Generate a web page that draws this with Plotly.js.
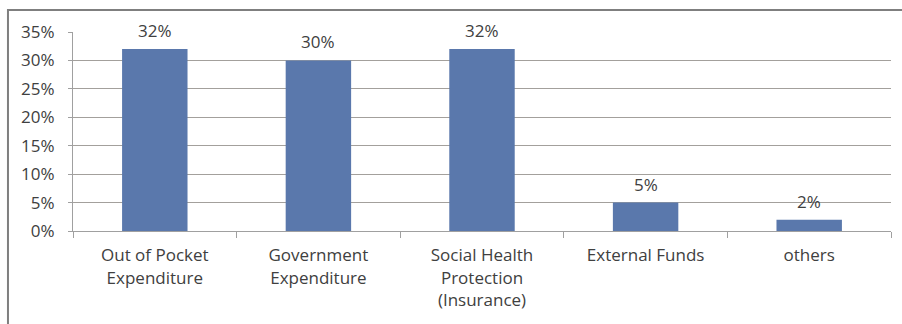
<!DOCTYPE html>
<html>
<head>
<meta charset="utf-8">
<script src="https://cdn.plot.ly/plotly-3.0.1.min.js"></script>
<style>html,body{margin:0;padding:0;background:#fff;}#chart{width:902px;height:324px;}</style>
</head>
<body>
<div id="chart"></div>
<script>
const categories = ["Out of Pocket<br>Expenditure", "Government<br>Expenditure", "Social Health<br>Protection<br>(Insurance)", "External Funds", "others"];
const values = [32, 30, 32, 5, 2];
const valueLabels = ["32%", "30%", "32%", "5%", "2%"];
const yTickVals = [0, 5, 10, 15, 20, 25, 30, 35];

const textColor = "#404040";
const fontFam = "'Open Sans', 'Noto Sans', sans-serif";
const fs = 17;

const trace = {
  type: "bar",
  x: categories,
  y: values,
  marker: {color: "#5a78ac"},
  width: 0.4,
  hoverinfo: "none"
};

const annotations = categories.map((c, i) => ({
  x: c, y: values[i], xref: "x", yref: "y",
  text: valueLabels[i], showarrow: false,
  yanchor: "bottom", yshift: 5,
  font: {family: fontFam, size: fs, color: textColor}
}));

const layout = {
  width: 902, height: 324,
  margin: {l: 73, r: 11, t: 32, b: 93},
  paper_bgcolor: "#fff", plot_bgcolor: "#fff",
  showlegend: false,
  bargap: 0.6,
  font: {family: fontFam, size: fs, color: textColor},
  xaxis: {
    type: "category",
    showline: true, linecolor: "#a0a0a0", linewidth: 1,
    ticks: "outside", tickson: "boundaries", ticklen: 6, tickcolor: "#a0a0a0",
    showgrid: false,
    tickfont: {family: fontFam, size: fs, color: textColor},
    ticklabelstandoff: 9,
    fixedrange: true
  },
  yaxis: {
    range: [0, 35],
    tickvals: yTickVals,
    ticktext: yTickVals.map(v => v + "%"),
    showline: true, linecolor: "#a0a0a0", linewidth: 1,
    ticks: "outside", ticklen: 4, tickcolor: "#a0a0a0",
    showgrid: true, gridcolor: "#a3a09c", gridwidth: 1,
    zeroline: false,
    tickfont: {family: fontFam, size: fs, color: textColor},
    ticklabelstandoff: 10,
    fixedrange: true
  },
  annotations: annotations,
  shapes: [
    {type: "path", xref: "paper", yref: "paper",
     path: "M -0.0795 -0.5 L -0.0795 1.111 L 1.02 1.111",
     line: {color: "#7f7f7f", width: 2}}
  ]
};

Plotly.newPlot("chart", [trace], layout, {displayModeBar: false, staticPlot: true});
</script>
</body>
</html>
